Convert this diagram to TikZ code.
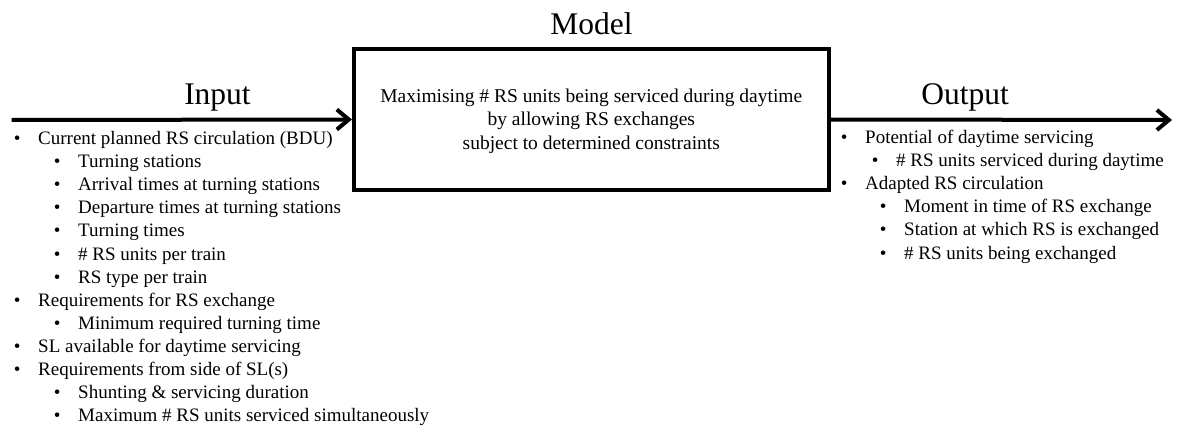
\documentclass[tikz,border=0pt]{standalone}
\usepackage{fontspec}
\setmainfont{Liberation Serif}
\usetikzlibrary{arrows.meta}

\tikzset{
  frame/.style={draw, line width=4pt, minimum width=474.7pt, minimum height=141pt, inner sep=0pt},
  flow/.style={line width=4pt, -{Straight Barb[length=12pt,width=20pt]}},
  heading/.style={font=\fontsize{31.5}{36}\selectfont, anchor=base, inner sep=0pt},
  entry/.style={font=\fontsize{19}{23}\selectfont, anchor=base west, inner sep=0pt},
  boxtext/.style={font=\fontsize{19.5}{23.5}\selectfont, align=center, inner sep=0pt},
}
% bullet hung to the left of an entry
\newcommand\dotmark{\llap{\textbullet\hspace{17.7pt}}}

\begin{document}
\begin{tikzpicture}[x=1pt,y=-1pt]
\useasboundingbox (0,0) rectangle (1189,433);

% central model box
\node[frame] (model) at (591.3,119.5) {};
\node[boxtext] (goal) at (591.3,121) {Maximising \# RS units being serviced during daytime\\by allowing RS exchanges\\subject to determined constraints};
\node[heading] (modeltitle) at (591.5,35) {Model};

% input and output flows
\coordinate (src) at (11.7,120);
\coordinate (snk) at (1172,120);
\draw[flow] (src) -- (model.west);
\draw[flow] (model.east) -- (snk);
\node[heading] (intitle) at (217.5,105) {Input};
\node[heading] (outtitle) at (965,105) {Output};

% input list
\node[entry] (in1)  at (38,144.5)   {\dotmark Current planned RS circulation (BDU)};
\node[entry] (in2)  at (78,167.6)   {\dotmark Turning stations};
\node[entry] (in3)  at (78,190.7)   {\dotmark Arrival times at turning stations};
\node[entry] (in4)  at (78,213.8)   {\dotmark Departure times at turning stations};
\node[entry] (in5)  at (78,236.9)   {\dotmark Turning times};
\node[entry] (in6)  at (78,260)     {\dotmark \# RS units per train};
\node[entry] (in7)  at (78,283.1)   {\dotmark RS type per train};
\node[entry] (in8)  at (38,306.2)   {\dotmark Requirements for RS exchange};
\node[entry] (in9)  at (78,329.3)   {\dotmark Minimum required turning time};
\node[entry] (in10) at (38,352.4)   {\dotmark SL available for daytime servicing};
\node[entry] (in11) at (38,375.5)   {\dotmark Requirements from side of SL(s)};
\node[entry] (in12) at (78,398.6)   {\dotmark Shunting \& servicing duration};
\node[entry] (in13) at (78,421.7)   {\dotmark Maximum \# RS units serviced simultaneously};

% output list
\node[entry] (out1) at (865,143.5)  {\dotmark Potential of daytime servicing};
\node[entry] (out2) at (896,166.6)  {\dotmark \# RS units serviced during daytime};
\node[entry] (out3) at (865,189.7)  {\dotmark Adapted RS circulation};
\node[entry] (out4) at (904,212.8)  {\dotmark Moment in time of RS exchange};
\node[entry] (out5) at (904,235.9)  {\dotmark Station at which RS is exchanged};
\node[entry] (out6) at (904,259)    {\dotmark \# RS units being exchanged};
\end{tikzpicture}
\end{document}
